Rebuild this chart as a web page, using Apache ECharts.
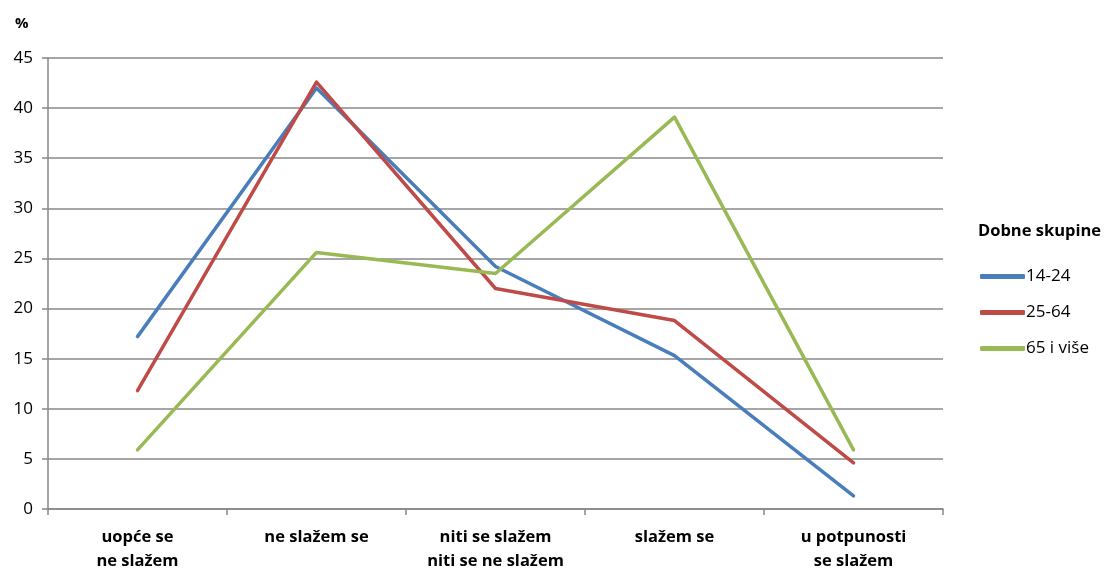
<!DOCTYPE html>
<html><head><meta charset="utf-8">
<script src="https://cdn.jsdelivr.net/npm/echarts@6/dist/echarts.min.js"></script>
<style>html,body{margin:0;padding:0;background:#fff}#c{width:1107px;height:569px}</style>
</head><body><div id="c"></div>
<script>
var categories = ['uopće se\nne slažem', 'ne slažem se', 'niti se slažem\nniti se ne slažem', 'slažem se', 'u potpunosti\nse slažem'];
var seriesNames = ['14-24', '25-64', '65 i više'];
var s1424 = [17.2, 42.0, 24.2, 15.3, 1.3];
var s2564 = [11.8, 42.6, 22.0, 18.8, 4.6];
var s65 = [5.9, 25.6, 23.5, 39.1, 5.9];
var colors = ['#4A7EBB', '#BE4B48', '#98B954'];
var FONT = 'Open Sans';
var chart = echarts.init(document.getElementById('c'));
function mk(name, data, color) {
  return { name: name, type: 'line', data: data, symbol: 'none', color: color,
    lineStyle: { width: 3.5, color: color, cap: 'round', join: 'round' } };
}
chart.setOption({
  animation: false,
  textStyle: { fontFamily: FONT },
  grid: { left: 48, right: 164, top: 58, bottom: 60, outerBoundsMode: 'none', containLabel: false },
  title: [
    { text: '%', left: 10, top: 11, textStyle: { fontFamily: FONT, fontSize: 15, fontWeight: 'bold', color: '#000' } },
    { text: 'Dobne skupine', left: 973, top: 218, textStyle: { fontFamily: FONT, fontSize: 16.5, fontWeight: 'bold', color: '#000' } }
  ],
  legend: {
    orient: 'vertical', left: 975, top: 263, itemGap: 19, itemWidth: 45, itemHeight: 5,
    icon: 'roundRect', data: seriesNames,
    textStyle: { fontFamily: FONT, fontSize: 17, color: '#000', padding: [0, 0, 0, -4] }
  },
  xAxis: {
    type: 'category', data: categories, boundaryGap: true,
    axisLine: { lineStyle: { color: '#888', width: 1.5 } },
    axisTick: { show: true, alignWithLabel: false, interval: 0, length: 6, lineStyle: { color: '#888', width: 1.5 } },
    axisLabel: { interval: 0, margin: 16, fontFamily: FONT, fontSize: 16.5, fontWeight: 'bold', color: '#000', lineHeight: 24 }
  },
  yAxis: {
    type: 'value', min: 0, max: 45, interval: 5,
    axisLine: { show: true, lineStyle: { color: '#888', width: 1.5 } },
    axisTick: { show: true, length: 6, lineStyle: { color: '#888', width: 1.5 } },
    axisLabel: { margin: 15, fontFamily: FONT, fontSize: 17, color: '#000' },
    splitLine: { lineStyle: { color: '#888', width: 1.5 } }
  },
  series: [mk(seriesNames[0], s1424, colors[0]), mk(seriesNames[1], s2564, colors[1]), mk(seriesNames[2], s65, colors[2])]
});
</script></body></html>
